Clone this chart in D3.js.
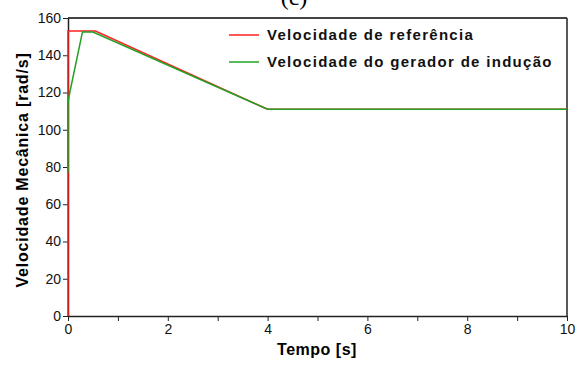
<!DOCTYPE html>
<html><head><meta charset="utf-8">
<script src="https://cdn.jsdelivr.net/npm/d3@7"></script>
<style>body{margin:0;background:#fff}svg{display:block}</style>
</head><body><svg id="c" width="579" height="365"></svg>
<script>
const refT = [0, 0, 0.55, 4, 10];
const refV = [0, 153, 153, 111, 111];
const genT = [0, 0, 0.02, 0.29, 0.5, 4, 10];
const genV = [77, 114, 118, 152.5, 152.5, 111, 111];
const xTicks = [0, 2, 4, 6, 8, 10];
const xMinor = [1, 3, 5, 7, 9];
const yTicks = [0, 20, 40, 60, 80, 100, 120, 140, 160];
const legendLabels = ["Velocidade de referência", "Velocidade do gerador de indução"];
const colors = ["#ff2020", "#22a022"];

const svg = d3.select("#c");
const L = 68, R = 567, T = 18, B = 316;
const x = d3.scaleLinear().domain([0, 10]).range([L, R]);
const y = d3.scaleLinear().domain([0, 160]).range([B, T]);

svg.append("text").attr("x", 294).attr("y", 5).attr("text-anchor", "middle")
  .attr("font-family", "Liberation Serif").attr("font-size", 24).text("(c)");

// frame
svg.append("line").attr("x1", L).attr("x2", R).attr("y1", T).attr("y2", T).attr("stroke", "#444").attr("stroke-width", 2);
svg.append("line").attr("x1", R).attr("x2", R).attr("y1", T).attr("y2", B).attr("stroke", "#222").attr("stroke-width", 1.5);

const xa = svg.append("g").attr("transform", `translate(0,${B})`)
  .call(d3.axisBottom(x).tickValues(xTicks).tickSize(5).tickSizeOuter(0).tickFormat(d3.format("d")));
svg.append("g").attr("transform", `translate(0,${B})`)
  .call(d3.axisBottom(x).tickValues(xMinor).tickSize(5).tickSizeOuter(0).tickFormat(""))
  .select(".domain").remove();
const ya = svg.append("g").attr("transform", `translate(${L},0)`)
  .call(d3.axisLeft(y).tickValues(yTicks).tickSize(5).tickSizeOuter(0));
svg.selectAll(".domain").attr("stroke", "#222").attr("stroke-width", 1.5);
svg.selectAll(".tick line").attr("stroke", "#222");
svg.selectAll(".tick text").attr("font-family", "Liberation Sans").attr("font-size", 14).attr("fill", "#111");
ya.selectAll(".tick text").attr("x", -7);
xa.selectAll(".tick text").attr("y", 8);

const line = d3.line().x(d => x(d[0])).y(d => y(d[1]));
svg.append("path").datum(refT.map((t, i) => [t, refV[i]])).attr("d", line)
  .attr("fill", "none").attr("stroke", colors[0]).attr("stroke-width", 1.5);
svg.append("path").datum(genT.map((t, i) => [t, genV[i]])).attr("d", line)
  .attr("fill", "none").attr("stroke", colors[1]).attr("stroke-width", 1.5);

svg.append("text").attr("x", 317).attr("y", 355).attr("text-anchor", "middle")
  .attr("font-family", "Liberation Sans").attr("font-weight", "bold").attr("font-size", 16).attr("letter-spacing", 0.5).text("Tempo [s]");
svg.append("text").attr("transform", `translate(28,170) rotate(-90)`).attr("text-anchor", "middle")
  .attr("font-family", "Liberation Sans").attr("font-weight", "bold").attr("font-size", 16).attr("letter-spacing", 0.8).text("Velocidade Mecânica [rad/s]");

const lg = svg.append("g");
legendLabels.forEach((s, i) => {
  const yy = 35 + i * 27;
  lg.append("line").attr("x1", 229).attr("x2", 259).attr("y1", yy).attr("y2", yy).attr("stroke", colors[i]).attr("stroke-width", 1.5);
  lg.append("text").attr("x", 267).attr("y", yy + 5).attr("font-family", "Liberation Sans").attr("font-weight", "bold")
    .attr("font-size", 15).attr("letter-spacing", 1.3).attr("fill", "#111").text(s);
});
</script></body></html>
